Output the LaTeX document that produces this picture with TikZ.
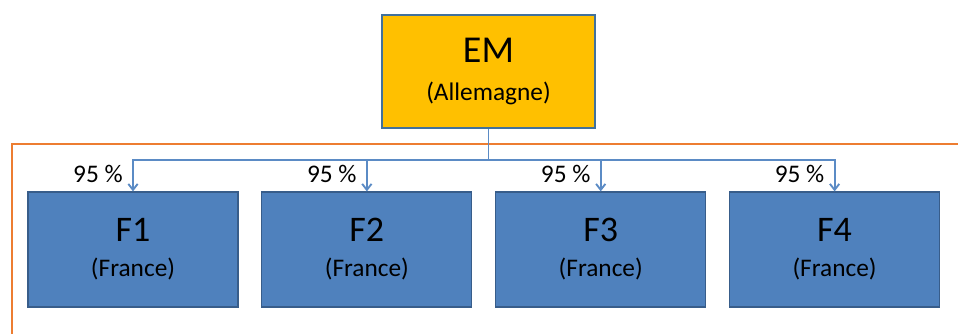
\documentclass[tikz,border=0pt]{standalone}
\usepackage{fontspec}
\setmainfont{Carlito}
\usepackage{xcolor}
\usetikzlibrary{arrows.meta,positioning}

\definecolor{emfill}{HTML}{FFC000}
\definecolor{emline}{HTML}{41719C}
\definecolor{subfill}{HTML}{4F81BD}
\definecolor{subline}{HTML}{385D8A}
\definecolor{linkcol}{HTML}{5B8BC5}
\definecolor{framecol}{HTML}{ED7D31}

\begin{document}
\begin{tikzpicture}[
  x=0.75pt, y=-0.75pt,
  every node/.style={align=center, text=black},
  hq/.style={draw=emline, line width=1.2pt, fill=emfill,
    minimum width=159.75pt, minimum height=84.75pt, inner sep=0pt,
    font=\fontsize{19}{28.5}\selectfont},
  sub/.style={draw=subline, line width=0.9pt, fill=subfill,
    minimum width=157.5pt, minimum height=86.25pt, inner sep=0pt,
    font=\fontsize{19}{26.25}\selectfont},
  link/.style={draw=linkcol, line width=1.4pt},
  tip/.style={-{Straight Barb[length=4.5pt,width=7pt]}},
  frame/.style={draw=framecol, line width=1.5pt},
  share/.style={font=\fontsize{19}{20}\selectfont, anchor=base east, inner sep=0pt}
]
\useasboundingbox (0,0) rectangle (958,333);
% cadre
\draw[frame] (12,335) |- (960,144);
% societe mere
\node[hq] (em) at (488.5,71.5)
  {{\fontsize{28.5}{28.5}\selectfont EM}\\(Allemagne)};
% filiales
\node[sub] (f1) at (133,249.5)
  {{\fontsize{27}{26.25}\selectfont F1}\\(France)};
\node[sub, right=17pt of f1] (f2)
  {{\fontsize{27}{26.25}\selectfont F2}\\(France)};
\node[sub, right=17pt of f2] (f3)
  {{\fontsize{27}{26.25}\selectfont F3}\\(France)};
\node[sub, right=17pt of f3] (f4)
  {{\fontsize{27}{26.25}\selectfont F4}\\(France)};
\coordinate (split) at (em.south |- 0,160);
\draw[link] (em.south) -- (split);
\foreach \f in {f1,f2,f3,f4} {
  \draw[link, tip] (split) -| (\f.north);
  \node[share] (pct-\f) at ([shift={(-10,-9)}]\f.north) {95 \%};
}
\end{tikzpicture}
\end{document}
